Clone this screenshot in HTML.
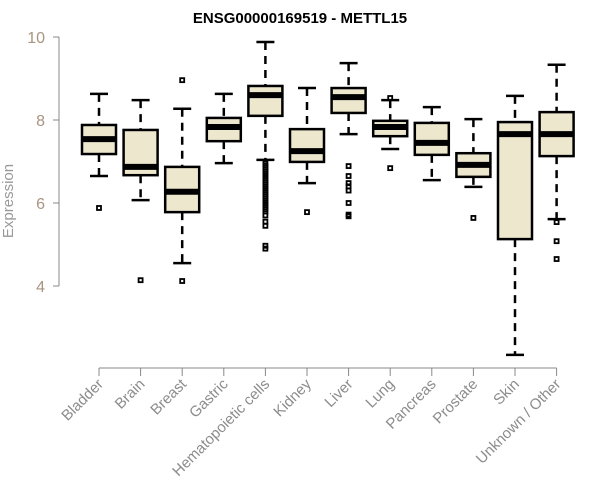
<!DOCTYPE html>
<html><head><meta charset="utf-8"><style>
body{margin:0;background:#fff;}
svg{display:block;font-family:"Liberation Sans",Arial,sans-serif;}
</style></head><body>
<svg id="chart" width="600" height="500">
<text x="300" y="23" text-anchor="middle" font-weight="bold" font-size="15">ENSG00000169519 - METTL15</text>
<text transform="translate(13,201) rotate(-90)" text-anchor="middle" font-size="15" fill="#999999">Expression</text>
<g id="yaxis"></g>
<g id="xaxis"></g>
<g id="boxes"></g>
</svg>
<script>
const categories=["Bladder","Brain","Breast","Gastric","Hematopoietic cells","Kidney","Liver","Lung","Pancreas","Prostate","Skin","Unknown / Other"];
const whiskerLow=[6.65,6.07,4.55,6.96,7.04,6.48,7.66,7.30,6.55,6.39,2.34,5.61];
const q1=[7.18,6.67,5.78,7.49,8.10,6.99,8.17,7.61,7.16,6.63,5.13,7.13];
const medians=[7.54,6.87,6.27,7.83,8.60,7.25,8.55,7.83,7.45,6.92,7.66,7.66];
const q3=[7.88,7.76,6.87,8.05,8.82,7.78,8.77,7.98,7.93,7.20,7.95,8.19];
const whiskerHigh=[8.63,8.48,8.27,8.63,9.88,8.77,9.37,8.48,8.31,8.02,8.58,9.33];
const outliers=[[5.88],[4.14],[8.96,4.12],[],
 [6.95,6.9,6.85,6.8,6.75,6.7,6.65,6.6,6.55,6.5,6.45,6.4,6.35,6.3,6.25,6.2,6.15,6.1,6.05,6.0,5.95,5.9,5.85,5.8,5.7,5.55,5.45,4.97,4.9],
 [5.78],[6.89,6.65,6.48,6.4,6.3,6.0,5.72,5.68],[8.53,6.84],[],[5.64],[],[5.54,5.08,4.65]];
const yTicks=[4,6,8,10];
const NS="http://www.w3.org/2000/svg";
const y=v=>37+(10-v)*41.5;
const x=i=>99+i*41.6;
function mk(tag,attrs,parent){const e=document.createElementNS(NS,tag);for(const k in attrs)e.setAttribute(k,attrs[k]);parent.appendChild(e);return e;}
const ya=document.getElementById('yaxis'),xa=document.getElementById('xaxis'),bx=document.getElementById('boxes');
mk('line',{x1:59,x2:59,y1:y(10),y2:y(4),stroke:'#888','stroke-width':1},ya);
yTicks.forEach(t=>{
 mk('line',{x1:53,x2:59,y1:y(t),y2:y(t),stroke:'#888'},ya);
 const tx=mk('text',{x:45,y:y(t)+6,'text-anchor':'end','font-size':16,fill:'#a89480'},ya);
 tx.textContent=t;
 
 
});
mk('line',{x1:x(0),x2:x(categories.length-1),y1:368,y2:368,stroke:'#888'},xa);
categories.forEach((c,i)=>{
 mk('line',{x1:x(i),x2:x(i),y1:368,y2:376,stroke:'#888'},xa);
 const tx=mk('text',{transform:`translate(${x(i)+5},${385}) rotate(-45)`,'text-anchor':'end','font-size':15,fill:'#8c8c8c'},xa);
 tx.textContent=c;
 
 
});
categories.forEach((c,i)=>{
 const g=mk('g',{},bx);
 
 
 const cx=x(i),hw=17;
 mk('line',{x1:cx,x2:cx,y1:y(whiskerHigh[i]),y2:y(q3[i]),stroke:'#000','stroke-width':2.5,'stroke-dasharray':'8,6'},g);
 mk('line',{x1:cx,x2:cx,y1:y(q1[i]),y2:y(whiskerLow[i]),stroke:'#000','stroke-width':2.5,'stroke-dasharray':'8,6'},g);
 mk('line',{x1:cx-9,x2:cx+9,y1:y(whiskerHigh[i]),y2:y(whiskerHigh[i]),stroke:'#000','stroke-width':2.5},g);
 mk('line',{x1:cx-9,x2:cx+9,y1:y(whiskerLow[i]),y2:y(whiskerLow[i]),stroke:'#000','stroke-width':2.5},g);
 mk('rect',{x:cx-hw,y:y(q3[i]),width:hw*2,height:y(q1[i])-y(q3[i]),fill:'#ede7cd',stroke:'#000','stroke-width':2.5},g);
 mk('line',{x1:cx-hw,x2:cx+hw,y1:y(medians[i]),y2:y(medians[i]),stroke:'#000','stroke-width':6},g);
 outliers[i].forEach(o=>{
  const r=mk('rect',{x:cx-2,y:y(o)-2,width:4,height:4,fill:'none',stroke:'#000','stroke-width':1.8},g);
  
  
 });
});
</script>
</body></html>
